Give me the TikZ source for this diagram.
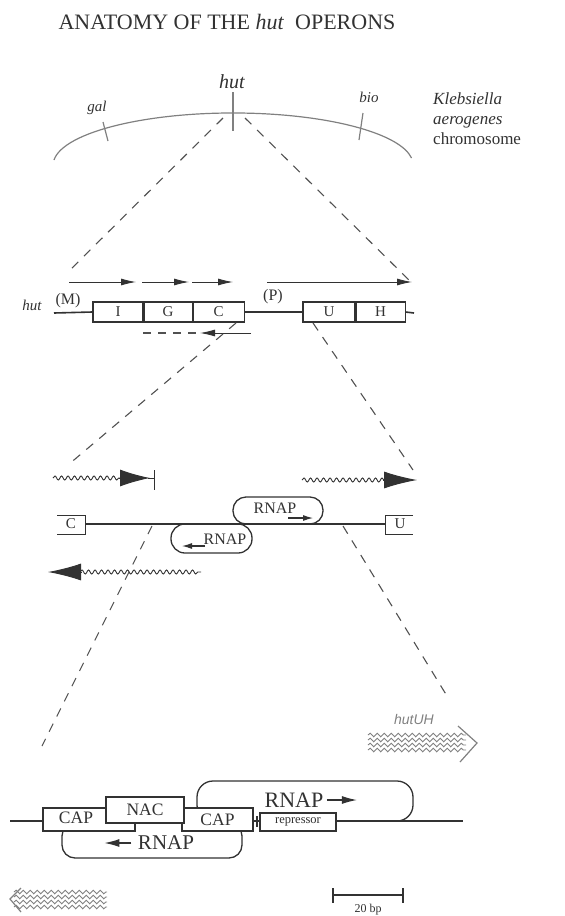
\documentclass[tikz,border=0pt]{standalone}
\usepackage{fontspec}
\setmainfont{Liberation Serif}
\newfontfamily\labelsans{Liberation Sans}
\usetikzlibrary{arrows.meta, decorations.pathmorphing, positioning}
\definecolor{ink}{RGB}{50,50,50}
\colorlet{faint}{black!50}
\newcommand*{\fsz}[1]{\fontsize{#1}{#1}\selectfont}
\tikzset{
  >=Latex,
  chromo/.style={draw=faint, line width=1.2pt},
  zoomline/.style={draw=ink!85, line width=1.1pt, dash pattern=on 9pt off 8pt},
  dna/.style={draw=ink, line width=1.6pt},
  gene/.style={draw=ink, fill=white, line width=1.1pt, minimum height=20, inner sep=0, font=\fsz{15}, text=ink},
  site/.style={draw=ink, fill=white, line width=1.3pt, inner sep=0, font=\fsz{17.5}, text=ink},
  bubble/.style={draw=ink, line width=1.3pt},
  tx/.style={-{Latex[length=15pt,width=7pt]}, draw=ink, line width=0.9pt},
  smalltx/.style={-{Latex[length=10pt,width=6pt]}, draw=ink, line width=1.1pt},
  wavy/.style={draw=ink, line width=0.9pt, decorate, decoration={snake, amplitude=2pt, segment length=6.5pt}},
  hatchwave/.style={draw=faint, line width=0.9pt, decorate, decoration={snake, amplitude=1.8pt, segment length=7pt}},
  bigtip/.style={draw=ink, -{Latex[length=30pt,width=17pt]}, line width=0.9pt}
}

\begin{document}
\begin{tikzpicture}[x=1pt, y=-1pt]
  \useasboundingbox (0,0) rectangle (565,916);

  % Title
  \node[font=\fsz{22}, text=ink] (title) at (227,22) {ANATOMY OF THE \textit{hut}\ \ OPERONS};

  % Chromosome
  \draw[chromo] (54,160) arc[start angle=185.5, end angle=352.3, x radius=180, y radius=52];
  \node[font=\fsz{20}\itshape, text=ink] (hutchr) at (232,82) {hut};
  \node[font=\fsz{15}\itshape, text=ink] (gal) at (97,108) {gal};
  \node[font=\fsz{15}\itshape, text=ink] (bio) at (369,97) {bio};
  \draw[chromo] (103,122) -- (108,141);
  \draw[chromo] (233,92) -- (233,131);
  \draw[chromo] (363,113) -- (359,140);
  \node[font=\fsz{17}, text=ink, align=left, anchor=north west, inner sep=0] (kleb) at (433,93)
    {\textit{Klebsiella}\\[3pt]\textit{aerogenes}\\[3pt]chromosome};

  % Zoom 1 -> 2
  \coordinate (zA1) at (223,118);
  \coordinate (zA2) at (68,272);
  \coordinate (zB1) at (245,118);
  \coordinate (zB2) at (413,284);
  \draw[zoomline] (zA1) -- (zA2);
  \draw[zoomline] (zB1) -- (zB2);

  % Gene map
  \node[gene, minimum width=50] (I) at (118,312) {I};
  \node[gene, minimum width=48, right=0pt of I] (G) {G};
  \node[gene, minimum width=51, right=0pt of G] (C) {C};
  \node[gene, minimum width=52] (U) at (329,312) {U};
  \node[gene, minimum width=49, right=0pt of U] (H) {H};
  \coordinate (mapL) at (54,313);
  \coordinate (mapR) at (414,313);
  \draw[dna] (mapL) -- (I.west);
  \draw[dna] (C.east) -- (U.west);
  \draw[dna] (H.east) -- (mapR);
  \node[font=\fsz{15}\itshape, text=ink] (hutmap) at (32,305) {hut};
  \node[font=\fsz{16}, text=ink] (M) at (68,301) {(M)};
  \node[font=\fsz{16}, text=ink] (P) at (273,297) {(P)};
  \draw[tx] (69,282) -- (136,282);
  \draw[tx] (142,282) -- (189,282);
  \draw[tx] (192,282) -- (233,282);
  \draw[tx] (267,282) -- (412,282);
  \draw[zoomline, dash pattern=on 8pt off 7pt] (143,333) -- (200,333);
  \draw[tx] (251,333) -- (200,333);

  % Zoom 2 -> 3
  \draw[zoomline] (236,323) -- (68,465);
  \draw[zoomline] (313,323) -- (413,470);

  % Control region
  \node[font=\fsz{15}, text=ink] (C3) at (71,524) {C};
  \draw[ink, line width=1pt] (57,515) -| (85,534) -- (57,534);
  \node[font=\fsz{15}, text=ink] (U3) at (400,524) {U};
  \draw[ink, line width=1pt] (413,515) -| (385,534) -- (413,534);
  \draw[dna] (85,524) -- (385,524);
  \draw[bubble, rounded corners=13] (233,497) rectangle (323,524);
  \node[font=\fsz{16}, text=ink] (rnapA) at (275,508) {RNAP};
  \draw[smalltx] (288,518) -- (313,518);
  \draw[bubble, rounded corners=14] (171,524) rectangle (252,553);
  \node[font=\fsz{16}, text=ink] (rnapB) at (225,539) {RNAP};
  \draw[smalltx] (205,546) -- (182,546);

  \draw[wavy] (53,478) -- (121,478);
  \draw[bigtip] (119,478) -- (150,478);
  \draw[ink, line width=0.9pt] (148,478) -- (154,478);
  \draw[ink, line width=0.9pt] (154,470) -- (154,490);
  \draw[wavy] (302,480) -- (386,480);
  \draw[bigtip, -{Latex[length=33pt,width=17pt]}] (383,480) -- (417,480);
  \draw[wavy] (80,572) -- (201,572);
  \draw[bigtip, -{Latex[length=33pt,width=17pt]}] (82,572) -- (48,572);

  % Zoom 3 -> 4
  \draw[zoomline] (152,526) -- (42,746);
  \draw[zoomline] (343,526) -- (447,696);

  % hutUH transcript
  \node[font=\fsz{14}\labelsans\itshape, text=faint] (hutUH) at (414,719) {hutUH};
  \foreach \r in {735,740,745,750}
    \draw[hatchwave] (368,\r) -- (466,\r);
  \draw[faint, line width=1.2pt] (458,726) -- (477,743) -- (460,762);

  % Promoter detail
  \draw[bubble, fill=white, rounded corners=16] (197,781) rectangle (413,821);
  \draw[bubble, fill=white, rounded corners=13] (62,823) rectangle (242,858);
  \draw[dna] (10,821) -- (463,821);
  \node[site, minimum width=71, minimum height=23] (cap2) at (217.5,819.5) {CAP};
  \node[site, minimum width=92, minimum height=23] (cap1) at (89,819.5) {};
  \node[font=\fsz{17.5}, text=ink] (cap1txt) at (76,818) {CAP};
  \node[site, minimum width=78, minimum height=26] (nac) at (145,810) {NAC};
  \node[site, minimum width=76, minimum height=18, font=\fsz{12.5}] (rep) at (298,822) {repressor};
  \draw[ink, line width=1.2pt] (257,816) -- (257,827);
  \node[font=\fsz{22}, text=ink] (rnapC) at (294,800) {RNAP};
  \draw[smalltx, -{Latex[length=15pt,width=8pt]}] (rnapC.east) -- +(30,0);
  \node[font=\fsz{21}, text=ink] (rnapD) at (166,843) {RNAP};
  \draw[smalltx, -{Latex[length=15pt,width=8pt]}] ([xshift=-3pt]rnapD.west) -- +(-27,0);

  % divergent transcript
  \foreach \r in {892,897,902,907}
    \draw[hatchwave] (14,\r) -- (107,\r);
  \draw[faint, line width=1.2pt] (21,888) -- (10,899) -- (21,912);

  % Scale bar
  \draw[ink, line width=1.2pt] (333,895) -- (403,895);
  \draw[ink, line width=1.2pt] (333,888) -- (333,903);
  \draw[ink, line width=1.2pt] (403,888) -- (403,903);
  \node[font=\fsz{12}, text=ink] (bp) at (368,910) {20 bp};
\end{tikzpicture}
\end{document}
